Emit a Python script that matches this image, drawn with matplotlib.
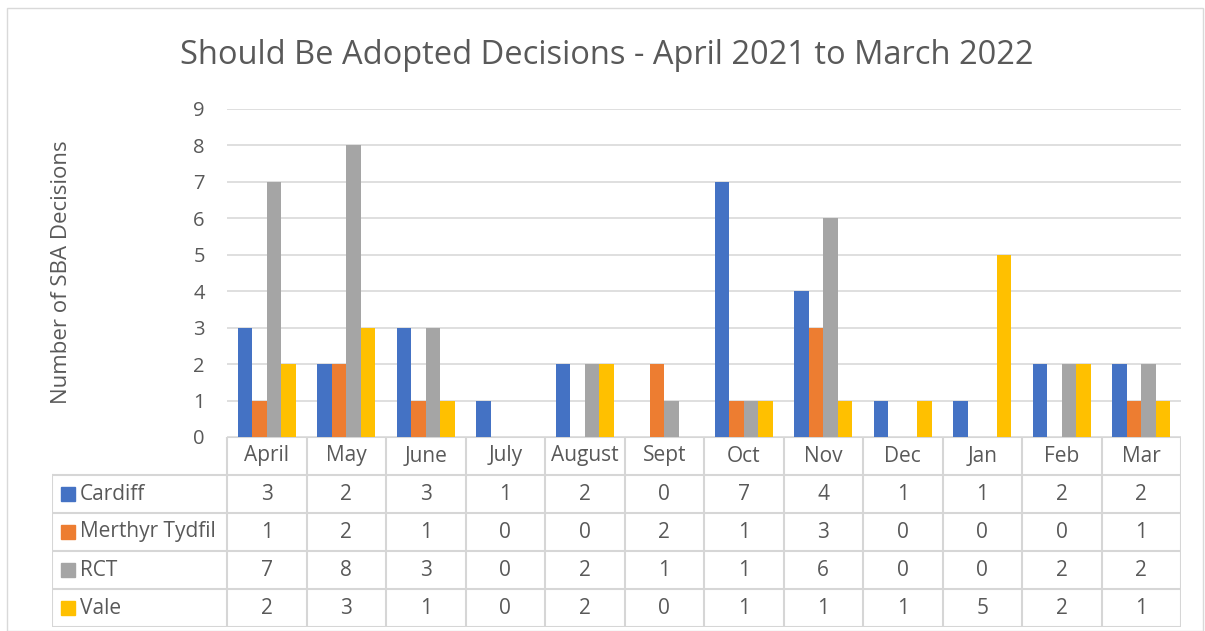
import matplotlib.pyplot as plt
import numpy as np
from matplotlib.patches import Rectangle

months = ['April', 'May', 'June', 'July', 'August', 'Sept', 'Oct', 'Nov', 'Dec', 'Jan', 'Feb', 'Mar']
series = ['Cardiff', 'Merthyr Tydfil', 'RCT', 'Vale']
cardiff = [3, 2, 3, 1, 2, 0, 7, 4, 1, 1, 2, 2]
merthyr = [1, 2, 1, 0, 0, 2, 1, 3, 0, 0, 0, 1]
rct = [7, 8, 3, 0, 2, 1, 1, 6, 0, 0, 2, 2]
vale = [2, 3, 1, 0, 2, 0, 1, 1, 1, 5, 2, 1]
colors = ['#4472C4', '#ED7D31', '#A5A5A5', '#FFC000']

values = [cardiff, merthyr, rct, vale]
txt = '#595959'
grid_c = '#D9D9D9'
plt.rcParams['font.family'] = ['Open Sans', 'DejaVu Sans']

W, H = 1205, 631
fig = plt.figure(figsize=(W / 100, H / 100), dpi=100)

# outer frame
fig.patches.append(Rectangle((7 / W, 0), (1196) / W, (H - 8) / H, transform=fig.transFigure,
                             fill=False, edgecolor=grid_c, linewidth=1))

x0, x1, ytop, ybot = 227, 1181, 109, 437
ax = fig.add_axes([x0 / W, (H - ybot) / H, (x1 - x0) / W, (ybot - ytop) / H])
x = np.arange(len(months)) + 0.5
bw = 0.182
for k in range(4):
    ax.bar(x + (k - 1.5) * bw, values[k], width=bw, color=colors[k], zorder=3)
ax.set_xlim(0, 12)
ax.set_ylim(0, 9)
ax.set_yticks(range(10))
ax.set_xticks([])
ax.grid(axis='y', color=grid_c, linewidth=1.2, zorder=0)
for s in ax.spines.values():
    s.set_visible(False)
ax.tick_params(axis='y', length=0, labelsize=14.5, labelcolor=txt, pad=16)
fig.text(62 / W, 1 - 272 / H, 'Number of SBA Decisions', rotation=90,
         ha='center', va='center', fontsize=16, color=txt)
fig.text(607 / W, 1 - 55 / H, 'Should Be Adopted Decisions - April 2021 to March 2022',
         ha='center', va='center', fontsize=23.5, color=txt)

# data table
tl, tb = 52, 627
tab = fig.add_axes([tl / W, (H - tb) / H, (x1 - tl) / W, (tb - ybot) / H])
lw = (x0 - tl) / ((x1 - x0) / 12)
tab.set_xlim(-lw, 12)
tab.set_ylim(0, 5)
tab.axis('off')
lc = '#D6D6D6'
# header row
tab.plot([0, 12], [5, 5], color=lc, lw=1.5)
tab.plot([-lw, 12], [4, 4], color=lc, lw=1.5)
for r in range(4):
    tab.plot([-lw, 12], [r, r], color=lc, lw=1.5)
tab.plot([-lw, -lw], [0, 4], color=lc, lw=1.5)
for c in range(13):
    tab.plot([c, c], [0, 5], color=lc, lw=1.5)
for i, m in enumerate(months):
    tab.text(i + 0.5, 4.5, m, ha='center', va='center', fontsize=15, color=txt)
for r in range(4):
    yy = 3.5 - r
    tab.add_patch(Rectangle((-lw + 0.115, yy - 0.19), 0.175, 0.38, color=colors[r]))
    tab.text(-lw + 0.35, yy, series[r], ha='left', va='center', fontsize=15, color=txt)
    for i in range(12):
        tab.text(i + 0.5, yy, str(values[r][i]), ha='center', va='center', fontsize=15, color=txt)

fig.savefig('out.png', dpi=100)
